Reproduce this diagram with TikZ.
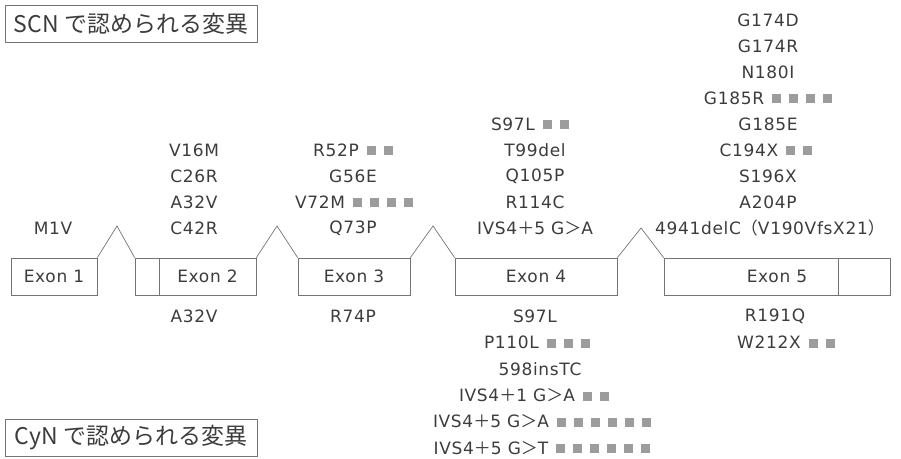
\documentclass[tikz,border=0pt]{standalone}
\usepackage{fontspec}
\setmainfont{DejaVu Sans}[LetterSpace=4]
\newfontfamily\jpfont{Noto Sans CJK JP}
\usetikzlibrary{calc}
\definecolor{mInk}{HTML}{3C3C3C}
\definecolor{mLine}{HTML}{747474}
\definecolor{mDot}{HTML}{9C9C9C}
\newcommand{\hits}[1]{\foreach \i in {1,...,#1}{\hspace{8pt}\textcolor{mDot}{\rule[1pt]{9pt}{9pt}}}}
\newcommand{\zplus}{{\jpfont ＋}}
\newcommand{\zgt}{{\jpfont ＞}}
\newcommand{\zlp}{{\jpfont （}}
\newcommand{\zrp}{{\jpfont ）}}

\begin{document}
\begin{tikzpicture}[x=1pt, y=-1pt,
    every node/.style={text=mInk, font=\fontsize{17}{20}\selectfont},
    exon/.style={draw=mLine, line width=0.7pt, minimum height=37pt, inner sep=0pt, font=\fontsize{17}{20}\selectfont},
    tag/.style={draw=mLine, line width=0.7pt, minimum width=252pt, minimum height=37pt, font=\jpfont\fontsize{23}{26}\selectfont},
    intron/.style={draw=mLine, line width=0.7pt}]
    \useasboundingbox (0,0) rectangle (901,458);
    % legends
    \node[tag] (scn) at (131,24) {SCN で認められる変異};
    \node[tag] (cyn) at (131,438) {CyN で認められる変異};
    % exons
    \node[exon, minimum width=86pt] (ex1) at (54,276.5) {Exon 1};
    \node[exon, minimum width=24pt] (ex2u) at (147,276.5) {};
    \node[exon, minimum width=97pt] (ex2) at (207.5,276.5) {Exon 2};
    \node[exon, minimum width=112pt] (ex3) at (354,276.5) {Exon 3};
    \node[exon, minimum width=162pt] (ex4) at (536,276.5) {Exon 4};
    \node[exon, minimum width=226pt] (ex5) at (777,276.5) {Exon 5};
    \draw[intron] ($(ex5.north west)!0.77!(ex5.north east)$) -- ($(ex5.south west)!0.77!(ex5.south east)$);
    % introns
    \coordinate (p1) at (117,226);
    \coordinate (p2) at (277,226);
    \coordinate (p3) at (433,226);
    \coordinate (p4) at (641,228);
    \draw[intron] (ex1.north east) -- (p1) -- (ex2u.north west);
    \draw[intron] (ex2.north east) -- (p2) -- (ex3.north west);
    \draw[intron] (ex3.north east) -- (p3) -- (ex4.north west);
    \draw[intron] (ex4.north east) -- (p4) -- (ex5.north west);
    % SCN, above
    \foreach \lbl/\x/\k [count=\n] in {M1V/53/0,
        V16M/194/3, C26R/194/2, A32V/194/1, C42R/194/0,
        {R52P\hits{2}}/353/3, G56E/353/2, {V72M\hits{4}}/354/1, Q73P/353/0,
        {S97L\hits{2}}/530/4, T99del/535/3, Q105P/535/2, R114C/535/1, {IVS4\zplus5 G\zgt A}/535/0,
        G174D/768/8, G174R/768/7, N180I/768/6, {G185R\hits{4}}/768/5, G185E/768/4,
        {C194X\hits{2}}/766/3, S196X/768/2, A204P/768/1, {4941delC\zlp V190VfsX21\zrp}/770/0} {
      \node[inner sep=0pt] (s\n) at (\x,{228-26*\k}) {\lbl};
    }
    % CyN, below
    \foreach \lbl/\x/\k [count=\n] in {A32V/194/0, R74P/353/0,
        S97L/535/0, {P110L\hits{3}}/537/1, 598insTC/540/2, {IVS4\zplus1 G\zgt A\hits{2}}/534/3,
        {IVS4\zplus5 G\zgt A\hits{6}}/542/4, {IVS4\zplus5 G\zgt T\hits{6}}/542/5,
        R191Q/775/0, {W212X\hits{2}}/786/1} {
      \node[inner sep=0pt] (c\n) at (\x,{316+26.4*\k}) {\lbl};
    }
\end{tikzpicture}
\end{document}
